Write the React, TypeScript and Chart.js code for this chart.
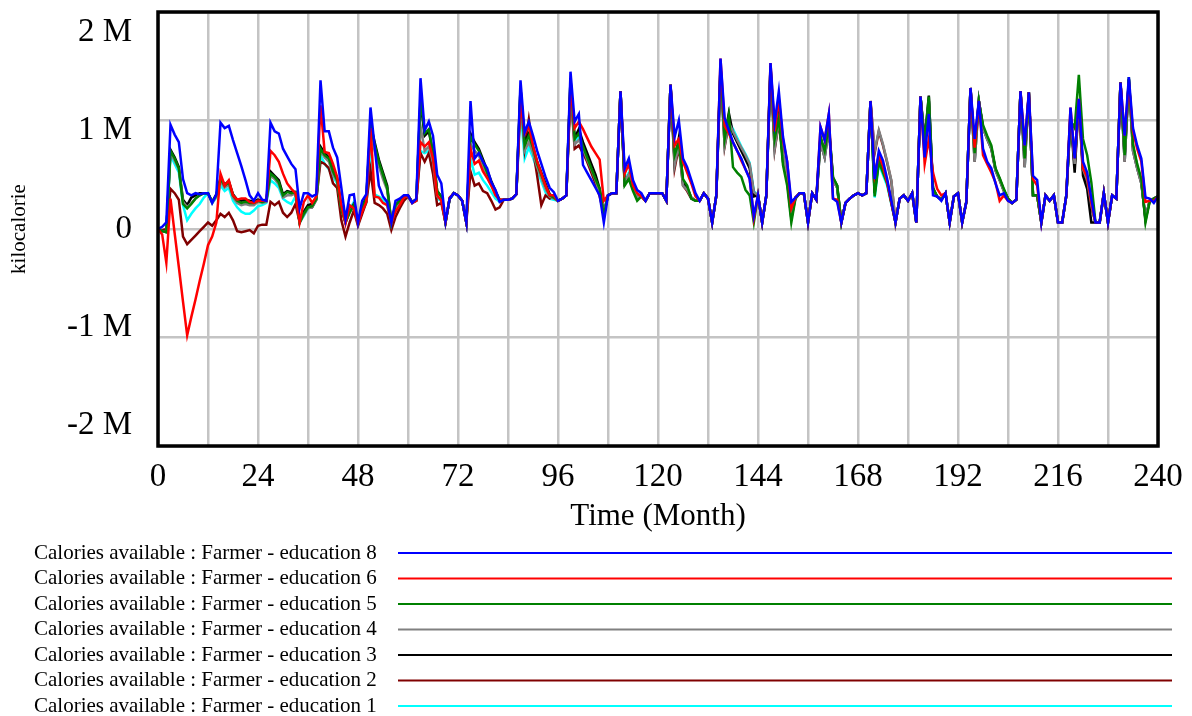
import React, { useEffect, useRef } from 'react';
import { Chart, registerables } from 'chart.js';

Chart.register(...registerables);

// Months 0..240
const MONTHS: number[] = Array.from({ length: 241 }, (_, i) => i);

const X_TICK_VALUES = [0, 24, 48, 72, 96, 120, 144, 168, 192, 216, 240];
const Y_TICK_VALUES = [2, 1, 0, -1, -2];
const Y_TICK_LABELS = ['2 M', '1 M', '0', '-1 M', '-2 M'];

// Values in millions of kilocalories
const ED8 = [
  0, 0.02, 0.06, 0.96, 0.87, 0.80, 0.46, 0.33, 0.31, 0.33, 0.32, 0.33,
  0.33, 0.24, 0.32, 0.98, 0.93, 0.95, 0.82, 0.70, 0.58, 0.45, 0.31, 0.26,
  0.33, 0.27, 0.26, 0.98, 0.90, 0.88, 0.74, 0.67, 0.60, 0.55, 0.19, 0.33,
  0.33, 0.30, 0.32, 1.37, 0.90, 0.90, 0.75, 0.66, 0.38, 0.09, 0.31, 0.32,
  0.06, 0.26, 0.32, 1.12, 0.76, 0.40, 0.30, 0.25, 0.06, 0.26, 0.28, 0.31,
  0.31, 0.24, 0.28, 1.39, 0.91, 0.99, 0.86, 0.50, 0.42, 0.07, 0.28, 0.33,
  0.31, 0.26, 0.06, 1.18, 0.65, 0.70, 0.62, 0.56, 0.43, 0.36, 0.25, 0.27,
  0.27, 0.28, 0.32, 1.37, 0.89, 0.99, 0.86, 0.72, 0.60, 0.48, 0.38, 0.34,
  0.26, 0.28, 0.31, 1.45, 0.99, 1.06, 0.59, 0.52, 0.45, 0.38, 0.31, 0.06,
  0.31, 0.33, 0.33, 1.27, 0.56, 0.65, 0.45, 0.36, 0.33, 0.26, 0.33, 0.33,
  0.33, 0.33, 0.26, 1.33, 0.85, 1.00, 0.65, 0.57, 0.45, 0.33, 0.26, 0.33,
  0.28, 0.06, 0.31, 1.57, 1.02, 0.91, 0.80, 0.72, 0.65, 0.55, 0.46, 0.12,
  0.31, 0.06, 0.31, 1.53, 0.98, 1.27, 0.85, 0.62, 0.25, 0.29, 0.33, 0.33,
  0.06, 0.33, 0.27, 0.94, 0.82, 1.06, 0.28, 0.25, 0.06, 0.24, 0.28, 0.31,
  0.33, 0.31, 0.33, 1.18, 0.46, 0.72, 0.63, 0.46, 0.26, 0.06, 0.28, 0.31,
  0.26, 0.33, 0.06, 1.22, 0.66, 1.06, 0.31, 0.30, 0.26, 0.33, 0.06, 0.30,
  0.33, 0.06, 0.25, 1.30, 0.83, 1.18, 0.74, 0.62, 0.56, 0.42, 0.31, 0.33,
  0.26, 0.24, 0.27, 1.27, 0.77, 1.26, 0.49, 0.45, 0.06, 0.31, 0.26, 0.31,
  0.06, 0.06, 0.31, 1.12, 0.65, 1.20, 0.62, 0.52, 0.28, 0.06, 0.06, 0.33,
  0.06, 0.31, 0.28, 1.35, 0.86, 1.40, 0.93, 0.77, 0.65, 0.29, 0.28, 0.24, 0.30,
];

const ED6 = [
  0, -0.05, -0.31, 0.28, -0.04, -0.35, -0.67, -0.98, -0.81, -0.65, -0.48, -0.32,
  -0.15, -0.07, 0.06, 0.51, 0.40, 0.45, 0.31, 0.27, 0.28, 0.28, 0.25, 0.24,
  0.26, 0.26, 0.26, 0.72, 0.68, 0.62, 0.51, 0.42, 0.37, 0.33, 0.06, 0.25,
  0.31, 0.24, 0.30, 1.14, 0.71, 0.70, 0.60, 0.48, 0.22, 0.05, 0.22, 0.19,
  0.05, 0.16, 0.25, 0.93, 0.30, 0.29, 0.24, 0.22, 0.06, 0.16, 0.22, 0.29,
  0.31, 0.24, 0.26, 0.80, 0.76, 0.80, 0.65, 0.31, 0.26, 0.06, 0.29, 0.33,
  0.31, 0.26, 0.06, 0.74, 0.60, 0.63, 0.53, 0.47, 0.40, 0.31, 0.27, 0.27,
  0.27, 0.28, 0.32, 1.17, 0.88, 0.95, 0.77, 0.62, 0.51, 0.40, 0.31, 0.31,
  0.26, 0.28, 0.31, 1.33, 0.93, 0.99, 0.92, 0.84, 0.76, 0.70, 0.64, 0.26,
  0.31, 0.33, 0.33, 1.27, 0.51, 0.60, 0.40, 0.33, 0.30, 0.26, 0.33, 0.33,
  0.33, 0.33, 0.26, 1.33, 0.77, 0.83, 0.62, 0.52, 0.42, 0.30, 0.26, 0.33,
  0.28, 0.06, 0.31, 1.57, 0.95, 0.88, 0.80, 0.72, 0.63, 0.55, 0.47, 0.10,
  0.31, 0.06, 0.31, 1.53, 0.90, 1.20, 0.82, 0.62, 0.19, 0.29, 0.33, 0.33,
  0.06, 0.33, 0.27, 0.94, 0.82, 1.06, 0.28, 0.27, 0.06, 0.24, 0.28, 0.31,
  0.33, 0.31, 0.33, 1.18, 0.50, 0.68, 0.58, 0.43, 0.24, 0.06, 0.28, 0.31,
  0.26, 0.33, 0.06, 1.22, 0.60, 0.83, 0.52, 0.37, 0.31, 0.33, 0.06, 0.30,
  0.33, 0.06, 0.25, 1.30, 0.75, 1.18, 0.68, 0.60, 0.52, 0.43, 0.26, 0.31,
  0.26, 0.24, 0.27, 1.27, 0.77, 1.26, 0.46, 0.40, 0.06, 0.31, 0.26, 0.31,
  0.06, 0.06, 0.31, 1.12, 0.65, 1.20, 0.56, 0.48, 0.24, 0.06, 0.06, 0.33,
  0.06, 0.31, 0.28, 1.35, 0.86, 1.35, 0.90, 0.74, 0.62, 0.25, 0.26, 0.26, 0.30,
];

const ED5 = [
  0, -0.02, -0.03, 0.72, 0.65, 0.56, 0.23, 0.19, 0.23, 0.28, 0.31, 0.33,
  0.33, 0.25, 0.31, 0.46, 0.40, 0.43, 0.31, 0.26, 0.24, 0.25, 0.24, 0.24,
  0.26, 0.25, 0.26, 0.51, 0.48, 0.43, 0.31, 0.34, 0.33, 0.34, 0.06, 0.14,
  0.20, 0.21, 0.28, 0.74, 0.68, 0.65, 0.53, 0.45, 0.18, 0.06, 0.15, 0.22,
  0.06, 0.20, 0.28, 0.95, 0.78, 0.62, 0.50, 0.38, 0.06, 0.22, 0.26, 0.30,
  0.31, 0.25, 0.27, 1.20, 0.88, 0.92, 0.70, 0.35, 0.30, 0.06, 0.28, 0.33,
  0.31, 0.26, 0.06, 0.85, 0.78, 0.72, 0.62, 0.52, 0.42, 0.33, 0.26, 0.27,
  0.27, 0.28, 0.32, 1.30, 0.77, 0.86, 0.75, 0.60, 0.50, 0.40, 0.31, 0.29,
  0.26, 0.28, 0.31, 1.38, 0.83, 0.88, 0.76, 0.66, 0.56, 0.46, 0.37, 0.12,
  0.31, 0.33, 0.33, 1.27, 0.40, 0.46, 0.35, 0.26, 0.30, 0.26, 0.33, 0.33,
  0.33, 0.33, 0.26, 1.33, 0.68, 0.80, 0.46, 0.40, 0.28, 0.26, 0.26, 0.33,
  0.28, 0.06, 0.31, 1.50, 0.83, 1.05, 0.57, 0.52, 0.48, 0.36, 0.31, 0.06,
  0.31, 0.06, 0.31, 1.50, 0.83, 1.02, 0.59, 0.40, 0.06, 0.28, 0.33, 0.33,
  0.06, 0.33, 0.27, 0.85, 0.72, 0.95, 0.48, 0.40, 0.06, 0.24, 0.28, 0.31,
  0.33, 0.31, 0.33, 1.18, 0.30, 0.62, 0.52, 0.42, 0.24, 0.06, 0.28, 0.31,
  0.26, 0.33, 0.06, 1.22, 0.80, 1.22, 0.37, 0.30, 0.27, 0.33, 0.06, 0.30,
  0.33, 0.06, 0.25, 1.30, 0.70, 1.18, 0.96, 0.86, 0.77, 0.56, 0.47, 0.37,
  0.28, 0.24, 0.27, 1.27, 0.65, 1.26, 0.31, 0.31, 0.06, 0.31, 0.26, 0.31,
  0.06, 0.06, 0.31, 1.00, 0.93, 1.42, 0.83, 0.68, 0.43, 0.06, 0.06, 0.33,
  0.06, 0.31, 0.28, 1.35, 0.68, 1.40, 0.78, 0.60, 0.46, 0.06, 0.25, 0.28, 0.30,
];

const ED4 = [
  0, -0.02, -0.03, 0.70, 0.63, 0.55, 0.25, 0.20, 0.24, 0.28, 0.31, 0.33,
  0.33, 0.24, 0.30, 0.44, 0.38, 0.41, 0.29, 0.24, 0.22, 0.23, 0.22, 0.22,
  0.25, 0.24, 0.25, 0.49, 0.46, 0.41, 0.29, 0.31, 0.31, 0.33, 0.06, 0.13,
  0.19, 0.20, 0.27, 0.72, 0.66, 0.62, 0.50, 0.44, 0.19, 0.06, 0.16, 0.22,
  0.05, 0.19, 0.27, 0.90, 0.72, 0.58, 0.46, 0.36, 0.05, 0.21, 0.25, 0.29,
  0.31, 0.24, 0.27, 0.95, 0.72, 0.76, 0.62, 0.30, 0.27, 0.06, 0.28, 0.33,
  0.31, 0.26, 0.06, 0.78, 0.72, 0.68, 0.58, 0.48, 0.40, 0.32, 0.26, 0.27,
  0.27, 0.28, 0.32, 1.20, 0.72, 0.80, 0.70, 0.57, 0.47, 0.37, 0.30, 0.28,
  0.26, 0.28, 0.31, 1.30, 0.78, 0.82, 0.74, 0.64, 0.55, 0.45, 0.33, 0.15,
  0.31, 0.33, 0.33, 1.27, 0.44, 0.50, 0.38, 0.29, 0.31, 0.26, 0.33, 0.33,
  0.33, 0.33, 0.26, 1.33, 0.59, 0.78, 0.40, 0.36, 0.29, 0.26, 0.26, 0.33,
  0.28, 0.06, 0.31, 1.45, 0.77, 0.98, 0.90, 0.82, 0.75, 0.68, 0.60, 0.34,
  0.31, 0.06, 0.31, 1.45, 0.74, 1.00, 0.68, 0.50, 0.15, 0.29, 0.33, 0.33,
  0.06, 0.33, 0.27, 0.80, 0.66, 0.92, 0.45, 0.38, 0.06, 0.24, 0.28, 0.31,
  0.33, 0.31, 0.33, 1.18, 0.72, 0.91, 0.78, 0.62, 0.45, 0.06, 0.28, 0.31,
  0.26, 0.33, 0.06, 1.22, 0.78, 1.18, 0.36, 0.30, 0.27, 0.33, 0.06, 0.30,
  0.33, 0.06, 0.25, 1.30, 0.62, 1.18, 0.93, 0.83, 0.74, 0.54, 0.45, 0.35,
  0.28, 0.24, 0.27, 1.27, 0.57, 1.26, 0.31, 0.31, 0.06, 0.31, 0.26, 0.31,
  0.06, 0.06, 0.31, 1.05, 0.60, 1.18, 0.55, 0.45, 0.22, 0.06, 0.06, 0.33,
  0.06, 0.31, 0.28, 1.35, 0.62, 1.38, 0.72, 0.56, 0.42, 0.10, 0.26, 0.28, 0.30,
];

const ED3 = [
  0, -0.02, -0.03, 0.73, 0.66, 0.57, 0.27, 0.22, 0.29, 0.31, 0.33, 0.33,
  0.33, 0.25, 0.32, 0.47, 0.41, 0.44, 0.32, 0.27, 0.26, 0.27, 0.26, 0.25,
  0.27, 0.26, 0.27, 0.53, 0.49, 0.45, 0.32, 0.35, 0.34, 0.34, 0.06, 0.16,
  0.22, 0.23, 0.29, 0.76, 0.70, 0.66, 0.55, 0.47, 0.20, 0.06, 0.17, 0.23,
  0.06, 0.21, 0.29, 0.97, 0.80, 0.64, 0.52, 0.40, 0.06, 0.22, 0.26, 0.30,
  0.31, 0.25, 0.27, 1.18, 0.86, 0.90, 0.70, 0.35, 0.30, 0.06, 0.28, 0.33,
  0.31, 0.26, 0.06, 0.88, 0.80, 0.74, 0.64, 0.54, 0.44, 0.35, 0.27, 0.27,
  0.27, 0.28, 0.32, 1.30, 0.80, 0.88, 0.76, 0.62, 0.52, 0.42, 0.32, 0.30,
  0.26, 0.28, 0.31, 1.38, 0.84, 0.92, 0.80, 0.70, 0.60, 0.50, 0.37, 0.14,
  0.31, 0.33, 0.33, 1.27, 0.42, 0.48, 0.37, 0.28, 0.31, 0.26, 0.33, 0.33,
  0.33, 0.33, 0.26, 1.33, 0.62, 0.84, 0.44, 0.38, 0.29, 0.26, 0.26, 0.33,
  0.28, 0.06, 0.31, 1.50, 0.85, 1.07, 0.88, 0.80, 0.72, 0.64, 0.56, 0.30,
  0.31, 0.06, 0.31, 1.50, 0.80, 1.05, 0.62, 0.44, 0.10, 0.29, 0.33, 0.33,
  0.06, 0.33, 0.27, 0.85, 0.70, 0.95, 0.47, 0.40, 0.06, 0.24, 0.28, 0.31,
  0.33, 0.31, 0.33, 1.18, 0.33, 0.64, 0.54, 0.44, 0.25, 0.06, 0.28, 0.31,
  0.26, 0.33, 0.06, 1.22, 0.82, 1.23, 0.38, 0.30, 0.27, 0.33, 0.06, 0.30,
  0.33, 0.06, 0.25, 1.30, 0.72, 1.18, 0.94, 0.84, 0.75, 0.55, 0.46, 0.36,
  0.28, 0.24, 0.27, 1.27, 0.65, 1.26, 0.31, 0.31, 0.06, 0.31, 0.26, 0.31,
  0.06, 0.06, 0.31, 1.05, 0.52, 1.18, 0.49, 0.37, 0.06, 0.06, 0.06, 0.33,
  0.06, 0.31, 0.28, 1.35, 0.66, 1.38, 0.76, 0.58, 0.44, 0.08, 0.26, 0.28, 0.30,
];

const ED2 = [
  0, -0.01, 0.0, 0.37, 0.33, 0.27, -0.07, -0.14, -0.10, -0.06, -0.02, 0.02,
  0.06, 0.03, 0.08, 0.14, 0.11, 0.15, 0.08, -0.02, -0.03, -0.02, -0.01, -0.04,
  0.03, 0.04, 0.04, 0.25, 0.22, 0.25, 0.15, 0.11, 0.15, 0.23, 0.06, 0.14,
  0.20, 0.20, 0.27, 0.62, 0.60, 0.56, 0.42, 0.38, 0.08, -0.07, 0.06, 0.17,
  0.03, 0.14, 0.25, 0.54, 0.24, 0.22, 0.19, 0.14, -0.01, 0.11, 0.19, 0.26,
  0.30, 0.24, 0.26, 0.70, 0.62, 0.70, 0.51, 0.22, 0.24, 0.06, 0.28, 0.33,
  0.31, 0.26, 0.06, 0.53, 0.40, 0.42, 0.35, 0.33, 0.26, 0.18, 0.20, 0.27,
  0.27, 0.28, 0.32, 1.25, 0.74, 1.01, 0.74, 0.49, 0.22, 0.31, 0.28, 0.30,
  0.26, 0.28, 0.31, 1.28, 0.74, 0.77, 0.70, 0.62, 0.52, 0.42, 0.30, 0.14,
  0.31, 0.33, 0.33, 1.27, 0.43, 0.50, 0.37, 0.29, 0.31, 0.26, 0.33, 0.33,
  0.33, 0.33, 0.26, 1.33, 0.56, 0.76, 0.40, 0.35, 0.28, 0.26, 0.26, 0.33,
  0.28, 0.06, 0.31, 1.45, 0.76, 0.97, 0.89, 0.81, 0.74, 0.66, 0.58, 0.33,
  0.31, 0.06, 0.31, 1.45, 0.73, 0.98, 0.67, 0.49, 0.14, 0.29, 0.33, 0.33,
  0.06, 0.33, 0.27, 0.80, 0.66, 0.92, 0.45, 0.38, 0.06, 0.24, 0.28, 0.31,
  0.33, 0.31, 0.33, 1.18, 0.70, 0.90, 0.77, 0.61, 0.44, 0.06, 0.28, 0.31,
  0.26, 0.33, 0.06, 1.22, 0.78, 1.18, 0.36, 0.30, 0.27, 0.33, 0.06, 0.30,
  0.33, 0.06, 0.25, 1.30, 0.62, 1.18, 0.93, 0.83, 0.74, 0.54, 0.45, 0.35,
  0.28, 0.24, 0.27, 1.27, 0.57, 1.26, 0.31, 0.31, 0.06, 0.31, 0.26, 0.31,
  0.06, 0.06, 0.31, 1.05, 0.58, 1.18, 0.54, 0.44, 0.20, 0.06, 0.06, 0.33,
  0.06, 0.31, 0.28, 1.35, 0.62, 1.38, 0.72, 0.56, 0.42, 0.10, 0.26, 0.28, 0.30,
];

const ED1 = [
  0, -0.01, -0.02, 0.68, 0.60, 0.52, 0.22, 0.08, 0.14, 0.19, 0.23, 0.29,
  0.33, 0.24, 0.29, 0.40, 0.35, 0.38, 0.26, 0.20, 0.16, 0.14, 0.14, 0.17,
  0.21, 0.22, 0.24, 0.45, 0.42, 0.38, 0.28, 0.25, 0.23, 0.30, 0.06, 0.12,
  0.19, 0.20, 0.27, 0.68, 0.60, 0.55, 0.48, 0.42, 0.20, 0.08, 0.18, 0.25,
  0.05, 0.16, 0.24, 0.63, 0.32, 0.30, 0.27, 0.22, 0.04, 0.20, 0.24, 0.28,
  0.30, 0.24, 0.26, 0.72, 0.70, 0.72, 0.58, 0.28, 0.26, 0.06, 0.28, 0.33,
  0.31, 0.26, 0.06, 0.65, 0.50, 0.52, 0.45, 0.40, 0.34, 0.28, 0.25, 0.27,
  0.27, 0.28, 0.32, 1.10, 0.65, 0.75, 0.66, 0.54, 0.44, 0.34, 0.28, 0.27,
  0.26, 0.28, 0.31, 1.30, 0.80, 0.85, 0.76, 0.66, 0.56, 0.46, 0.34, 0.16,
  0.31, 0.33, 0.33, 1.27, 0.45, 0.52, 0.38, 0.30, 0.31, 0.26, 0.33, 0.33,
  0.33, 0.33, 0.26, 1.33, 0.60, 0.78, 0.42, 0.36, 0.28, 0.26, 0.26, 0.33,
  0.28, 0.06, 0.31, 1.45, 0.78, 0.99, 0.92, 0.84, 0.76, 0.69, 0.61, 0.35,
  0.31, 0.06, 0.31, 1.45, 0.75, 1.00, 0.70, 0.52, 0.16, 0.29, 0.33, 0.33,
  0.06, 0.33, 0.27, 0.80, 0.66, 0.92, 0.45, 0.38, 0.06, 0.24, 0.28, 0.31,
  0.33, 0.31, 0.33, 1.18, 0.29, 0.60, 0.50, 0.40, 0.23, 0.06, 0.28, 0.31,
  0.26, 0.33, 0.06, 1.22, 0.78, 1.18, 0.36, 0.30, 0.27, 0.33, 0.06, 0.30,
  0.33, 0.06, 0.25, 1.30, 0.62, 1.18, 0.93, 0.83, 0.74, 0.54, 0.45, 0.35,
  0.28, 0.24, 0.27, 1.27, 0.57, 1.26, 0.31, 0.31, 0.06, 0.31, 0.26, 0.31,
  0.06, 0.06, 0.31, 1.05, 0.60, 1.18, 0.55, 0.45, 0.22, 0.06, 0.06, 0.33,
  0.06, 0.31, 0.28, 1.35, 0.62, 1.38, 0.72, 0.56, 0.42, 0.10, 0.26, 0.28, 0.30,
];

const SERIES_LABELS = [
  'Calories available : Farmer - education 8',
  'Calories available : Farmer - education 6',
  'Calories available : Farmer - education 5',
  'Calories available : Farmer - education 4',
  'Calories available : Farmer - education 3',
  'Calories available : Farmer - education 2',
  'Calories available : Farmer - education 1',
];
const SERIES_COLORS = ['#0000ff', '#ff0000', '#008000', '#808080', '#000000', '#800000', '#00ffff'];
const SERIES_DATA = [ED8, ED6, ED5, ED4, ED3, ED2, ED1];

const FONT = '"Liberation Serif", "Times New Roman", serif';

const decorPlugin = {
  id: 'vensimDecor',
  afterDraw(chart: any) {
    const { ctx, chartArea: a, scales } = chart;
    const x = scales.x;
    const y = scales.y;
    ctx.save();
    // frame
    ctx.strokeStyle = '#000';
    ctx.lineWidth = 3.5;
    ctx.strokeRect(a.left, a.top, a.right - a.left, a.bottom - a.top);

    ctx.fillStyle = '#000';
    // y tick labels (spread slightly inward as in the original)
    ctx.font = `33px ${FONT}`;
    ctx.textAlign = 'right';
    ctx.textBaseline = 'middle';
    const y0 = y.getPixelForValue(0);
    Y_TICK_VALUES.forEach((v, i) => {
      const py = y0 + (y.getPixelForValue(v) - y0) * 0.905;
      ctx.fillText(Y_TICK_LABELS[i], a.left - 26, py);
    });
    // x tick labels
    ctx.textAlign = 'center';
    X_TICK_VALUES.forEach((v) => {
      ctx.fillText(String(v), x.getPixelForValue(v), a.bottom + 31);
    });
    // x title
    ctx.font = `31px ${FONT}`;
    ctx.fillText('Time (Month)', (a.left + a.right) / 2, a.bottom + 71);
    // y title
    ctx.save();
    ctx.translate(19, (a.top + a.bottom) / 2);
    ctx.rotate(-Math.PI / 2);
    ctx.font = `21px ${FONT}`;
    ctx.fillText('kilocalorie', 0, 0);
    ctx.restore();
    // legend
    ctx.font = `21px ${FONT}`;
    ctx.textAlign = 'left';
    chart.data.datasets.forEach((ds: any, i: number) => {
      const ly = 553 + i * 25.5;
      ctx.fillStyle = '#000';
      ctx.fillText(ds.label, 34, ly);
      ctx.strokeStyle = ds.borderColor;
      ctx.lineWidth = 2;
      ctx.beginPath();
      ctx.moveTo(398, ly);
      ctx.lineTo(1172, ly);
      ctx.stroke();
    });
    ctx.restore();
  },
};

export default function App() {
  const canvasRef = useRef<HTMLCanvasElement | null>(null);

  useEffect(() => {
    const canvas = canvasRef.current;
    if (!canvas) return;
    const chart = new Chart(canvas, {
      type: 'line',
      data: {
        labels: MONTHS,
        datasets: SERIES_DATA.map((d, i) => ({
          label: SERIES_LABELS[i],
          data: d,
          borderColor: SERIES_COLORS[i],
          backgroundColor: SERIES_COLORS[i],
          borderWidth: 2.5,
          pointRadius: 0,
          tension: 0,
          fill: false,
        })),
      },
      options: {
        animation: false,
        responsive: false,
        devicePixelRatio: 1,
        layout: { padding: { left: 158, top: 12, right: 34, bottom: 270 } },
        plugins: { legend: { display: false }, tooltip: { enabled: false } },
        scales: {
          x: {
            type: 'linear',
            min: 0,
            max: 240,
            ticks: { stepSize: 12, display: false },
            grid: { color: '#c4c4c4', lineWidth: 2.5, drawTicks: false },
            border: { display: false },
          },
          y: {
            min: -2,
            max: 2,
            ticks: { stepSize: 1, display: false },
            grid: { color: '#c4c4c4', lineWidth: 2.5, drawTicks: false },
            border: { display: false },
          },
        },
      },
      plugins: [decorPlugin],
    });
    return () => chart.destroy();
  }, []);

  return (
    <div style={{ position: 'absolute', left: 0, top: 0, width: 1192, height: 716, background: '#fff' }}>
      <canvas ref={canvasRef} width={1192} height={716} style={{ display: 'block' }} />
    </div>
  );
}
